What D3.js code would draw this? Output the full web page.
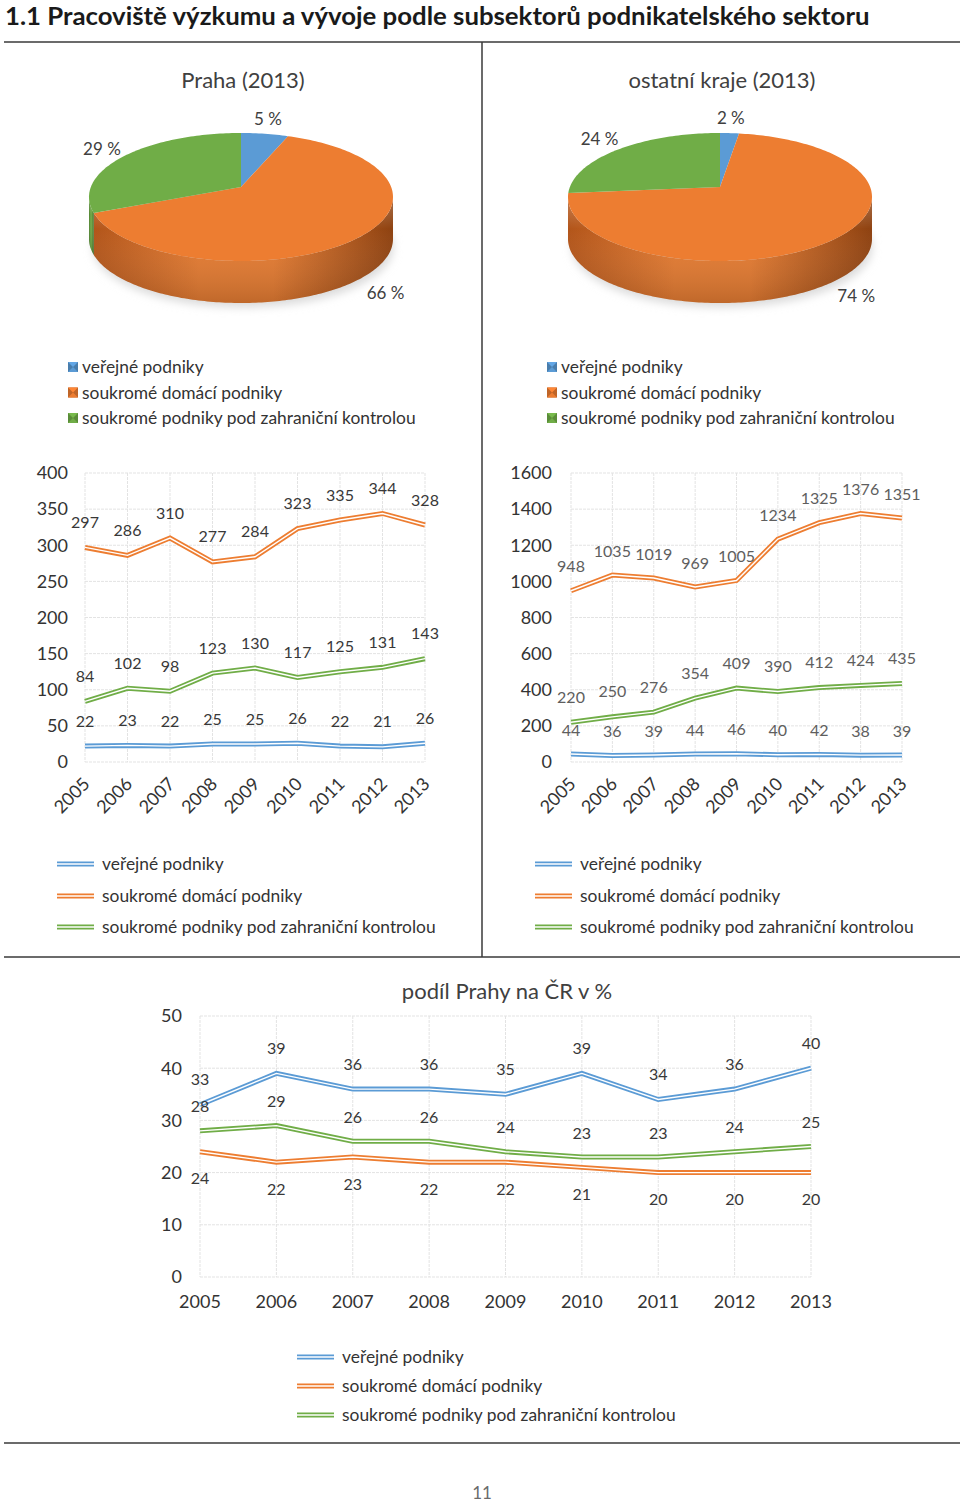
<!DOCTYPE html>
<html><head><meta charset="utf-8">
<script src="https://cdn.jsdelivr.net/npm/d3@7"></script>
<style>
body{margin:0;background:#fff}
svg{display:block}
text{font-family:Lato,"Open Sans",sans-serif;fill:#404040}
</style></head>
<body><svg id="c" width="960" height="1503"></svg>
<script>
// ---------- DATA ----------
const years = [2005, 2006, 2007, 2008, 2009, 2010, 2011, 2012, 2013];
const seriesNames = ["veřejné podniky", "soukromé domácí podniky", "soukromé podniky pod zahraniční kontrolou"];
const seriesColors = ["#5b9bd5", "#ed7d31", "#70ad47"];

const pieTitles = ["Praha (2013)", "ostatní kraje (2013)"];
const pragueShare = [5, 66, 29];
const regionsShare = [2, 74, 24];

const pragueTicks = [0, 50, 100, 150, 200, 250, 300, 350, 400];
const pragueVerejne = [22, 23, 22, 25, 25, 26, 22, 21, 26];
const pragueDomaci = [297, 286, 310, 277, 284, 323, 335, 344, 328];
const pragueZahr = [84, 102, 98, 123, 130, 117, 125, 131, 143];

const regionsTicks = [0, 200, 400, 600, 800, 1000, 1200, 1400, 1600];
const regionsVerejne = [44, 36, 39, 44, 46, 40, 42, 38, 39];
const regionsDomaci = [948, 1035, 1019, 969, 1005, 1234, 1325, 1376, 1351];
const regionsZahr = [220, 250, 276, 354, 409, 390, 412, 424, 435];

const shareTitle = "podíl Prahy na ČR v %";
const shareTicks = [0, 10, 20, 30, 40, 50];
const shareVerejne = [33, 39, 36, 36, 35, 39, 34, 36, 40];
const shareDomaci = [24, 22, 23, 22, 22, 21, 20, 20, 20];
const shareZahr = [28, 29, 26, 26, 24, 23, 23, 24, 25];

const mainTitle = "1.1 Pracoviště výzkumu a vývoje podle subsektorů podnikatelského sektoru";
const pageNumber = "11";

// ---------- DRAW ----------
const svg = d3.select("#c");
const defs = svg.append("defs");

// title, condensed to the reference width
const t = svg.append("text").attr("x", 0).attr("y", 0)
  .style("font-weight", "bold").style("font-size", "24px").style("fill", "#1a1a1a")
  .text(mainTitle);
const tl = t.node().getComputedTextLength();
t.attr("transform", `translate(5,25) scale(${(865 / tl).toFixed(4)},1)`);

// separators
const sep = svg.append("g").attr("stroke", "#3a3a3a").attr("stroke-width", 1.5);
sep.append("line").attr("x1", 4).attr("x2", 960).attr("y1", 42).attr("y2", 42);
sep.append("line").attr("x1", 482).attr("x2", 482).attr("y1", 42).attr("y2", 957);
sep.append("line").attr("x1", 4).attr("x2", 960).attr("y1", 957).attr("y2", 957);
sep.append("line").attr("x1", 4).attr("x2", 960).attr("y1", 1443).attr("y2", 1443);

svg.append("text").attr("x", 482).attr("y", 1493).attr("dy", "0.35em").attr("text-anchor", "middle")
  .style("font-size", "17px").style("fill", "#6b6b6b").text(pageNumber);

// blur filter for pie shadow
const f = defs.append("filter").attr("id", "blur").attr("x", "-20%").attr("y", "-50%").attr("width", "140%").attr("height", "200%");
f.append("feGaussianBlur").attr("stdDeviation", 5);

const sideStops = [
  ["#3f76a8", "#5b9bd5", "#2f5f8c"],
  ["#b2551a", "#e27a31", "#8e4211"],
  ["#4d7f2e", "#6ea646", "#3c6a22"]
];
sideStops.forEach((s, i) => {
  const g = defs.append("linearGradient").attr("id", "side" + i).attr("x1", "0").attr("x2", "1").attr("y1", "0").attr("y2", "0");
  g.append("stop").attr("offset", "0").attr("stop-color", s[0]);
  g.append("stop").attr("offset", "0.35").attr("stop-color", s[1]);
  g.append("stop").attr("offset", "0.6").attr("stop-color", s[1]);
  g.append("stop").attr("offset", "1").attr("stop-color", s[2]);
  const v = defs.append("linearGradient").attr("id", "shade" + i).attr("x1", "0").attr("x2", "0").attr("y1", "0").attr("y2", "1");
  v.append("stop").attr("offset", "0").attr("stop-color", "#fff").attr("stop-opacity", 0.25);
  v.append("stop").attr("offset", "0.3").attr("stop-color", "#fff").attr("stop-opacity", 0);
  v.append("stop").attr("offset", "1").attr("stop-color", "#000").attr("stop-opacity", 0.15);
});

function pie3d(cx, title, values) {
  const cy = 197, rx = 152, ry = 64, depth = 42, apexY = 187;
  const g = svg.append("g");
  g.append("text").attr("x", cx + 2).attr("y", 88).attr("text-anchor", "middle")
    .style("font-size", "22px").style("fill", "#404040").text(title);
  const P = (a, dz = 0) => [cx + rx * Math.sin(a), cy - ry * Math.cos(a) + dz];
  // shadow
  g.append("ellipse").attr("cx", cx + 2).attr("cy", cy + depth + 8).attr("rx", rx - 2).attr("ry", ry - 4)
    .attr("fill", "#d8d8d8").attr("filter", "url(#blur)");
  const arcs = d3.pie().sort(null).startAngle(0).endAngle(2 * Math.PI)(values);
  const sample = (a0, a1) => { const n = Math.max(2, Math.ceil((a1 - a0) / 0.02)); return d3.range(n + 1).map(k => a0 + (a1 - a0) * k / n); };
  // sides (front half)
  arcs.forEach((d, i) => {
    const s = Math.max(d.startAngle, Math.PI / 2), e = Math.min(d.endAngle, 3 * Math.PI / 2);
    if (e <= s) return;
    const angs = sample(s, e);
    const pts = angs.map(a => P(a)).concat(angs.slice().reverse().map(a => P(a, depth)));
    const path = "M" + pts.map(p => p.join(",")).join("L") + "Z";
    g.append("path").attr("d", path).attr("fill", `url(#side${i})`);
    g.append("path").attr("d", path).attr("fill", `url(#shade${i})`);
  });
  // top faces
  arcs.forEach((d, i) => {
    const pts = [[cx, apexY]].concat(sample(d.startAngle, d.endAngle).map(a => P(a)));
    g.append("path").attr("d", "M" + pts.map(p => p.join(",")).join("L") + "Z").attr("fill", seriesColors[i]);
  });
  // labels
  arcs.forEach((d) => {
    const m = (d.startAngle + d.endAngle) / 2;
    const front = Math.cos(m) < 0 ? depth : 0;
    const p = P(m, front);
    const txt = d.data + " %";
    const w = txt.length * 8;
    const x = p[0] + Math.sin(m) * (8 + w / 2) + (front ? 24 : 0);
    const y = p[1] - Math.cos(m) * 15 - (front ? 4 : 0);
    g.append("text").attr("x", x).attr("y", y).attr("dy", "0.35em").attr("text-anchor", "middle")
      .style("font-size", "17px").style("fill", "#404040").text(txt);
  });
}
pie3d(241, pieTitles[0], pragueShare);
pie3d(720, pieTitles[1], regionsShare);

// pie legends with beveled squares
function pieLegend(x, y0) {
  seriesNames.forEach((n, i) => {
    const y = y0 + i * 25.5;
    const g = svg.append("g").attr("transform", `translate(${x},${y - 5})`);
    const c = d3.color(seriesColors[i]);
    g.append("rect").attr("width", 10).attr("height", 10).attr("fill", c.darker(0.6));
    g.append("path").attr("d", "M0,0L10,0L5,5Z").attr("fill", c.brighter(0.2));
    g.append("path").attr("d", "M0,10L10,10L5,5Z").attr("fill", c);
    svg.append("text").attr("x", x + 14).attr("y", y).attr("dy", "0.35em")
      .style("font-size", "17.4px").style("fill", "#333").text(n);
  });
}
pieLegend(68, 367);
pieLegend(547, 367);

// double line helper
function dbl(g, d, color) {
  g.append("path").attr("d", d).attr("fill", "none").attr("stroke", color).attr("stroke-width", 5).attr("stroke-linejoin", "miter");
  g.append("path").attr("d", d).attr("fill", "none").attr("stroke", "#fff").attr("stroke-width", 1.4).attr("stroke-linejoin", "miter");
}

function lineLegend(x, ys) {
  seriesNames.forEach((n, i) => {
    const g = svg.append("g");
    dbl(g, `M${x},${ys[i]}L${x + 37},${ys[i]}`, seriesColors[i]);
    svg.append("text").attr("x", x + 45).attr("y", ys[i]).attr("dy", "0.35em")
      .style("font-size", "17.4px").style("fill", "#333").text(n);
  });
}

function lineChart(o) {
  const x = d3.scalePoint().domain(years).range([o.x0, o.x1]);
  const y = d3.scaleLinear().domain([0, d3.max(o.ticks)]).range([o.yb, o.yt]);
  const g = svg.append("g");
  const grid = g.append("g").attr("stroke", "#e3e3e3").attr("stroke-width", 1).attr("stroke-dasharray", "3,1");
  o.ticks.forEach(v => grid.append("line").attr("x1", o.x0).attr("x2", o.x1).attr("y1", y(v)).attr("y2", y(v)));
  years.forEach(v => grid.append("line").attr("x1", x(v)).attr("x2", x(v)).attr("y1", o.yt).attr("y2", o.yb));
  // y tick labels
  o.ticks.forEach(v => g.append("text").attr("x", o.tickX).attr("y", y(v)).attr("dy", "0.35em")
    .attr("text-anchor", "end").style("font-size", "18px").style("fill", "#333").text(v));
  // x tick labels
  years.forEach(v => {
    if (o.rotate) {
      g.append("text").attr("transform", `translate(${x(v) + 6},${o.yb + 23}) rotate(-45)`)
        .attr("text-anchor", "end").style("font-size", "18px").style("fill", "#333").text(v);
    } else {
      g.append("text").attr("x", x(v)).attr("y", o.yb + 25).attr("dy", "0.35em")
        .attr("text-anchor", "middle").style("font-size", "18px").style("fill", "#333").text(v);
    }
  });
  const line = d3.line().x((d, i) => x(years[i])).y(d => y(d));
  o.series.forEach((s, k) => dbl(g, line(s.values), seriesColors[s.color]));
  o.series.forEach(s => {
    s.values.forEach((v, i) => {
      g.append("text").attr("x", x(years[i])).attr("y", y(v) + s.off).attr("dy", "0.35em")
        .attr("text-anchor", "middle").style("font-size", "16px").style("fill", o.labelColor).text(v);
    });
  });
}

lineChart({
  x0: 85, x1: 425, yt: 473, yb: 762, ticks: pragueTicks, tickX: 68, rotate: true, labelColor: "#383838",
  series: [
    { values: pragueVerejne, color: 0, off: -25 },
    { values: pragueDomaci, color: 1, off: -25 },
    { values: pragueZahr, color: 2, off: -25 }
  ]
});
lineChart({
  x0: 571, x1: 902, yt: 473, yb: 762, ticks: regionsTicks, tickX: 552, rotate: true, labelColor: "#5e5e5e",
  series: [
    { values: regionsVerejne, color: 0, off: -24 },
    { values: regionsDomaci, color: 1, off: -24 },
    { values: regionsZahr, color: 2, off: -25 }
  ]
});
lineLegend(57, [864, 896, 927]);
lineLegend(535, [864, 896, 927]);

svg.append("text").attr("x", 507).attr("y", 991).attr("dy", "0.35em").attr("text-anchor", "middle")
  .style("font-size", "22px").style("fill", "#404040").text(shareTitle);
lineChart({
  x0: 200, x1: 811, yt: 1016, yb: 1277, ticks: shareTicks, tickX: 182, rotate: false, labelColor: "#383838",
  series: [
    { values: shareVerejne, color: 0, off: -25 },
    { values: shareDomaci, color: 1, off: 27 },
    { values: shareZahr, color: 2, off: -24 }
  ]
});
lineLegend(297, [1357, 1386, 1415]);
</script></body></html>
